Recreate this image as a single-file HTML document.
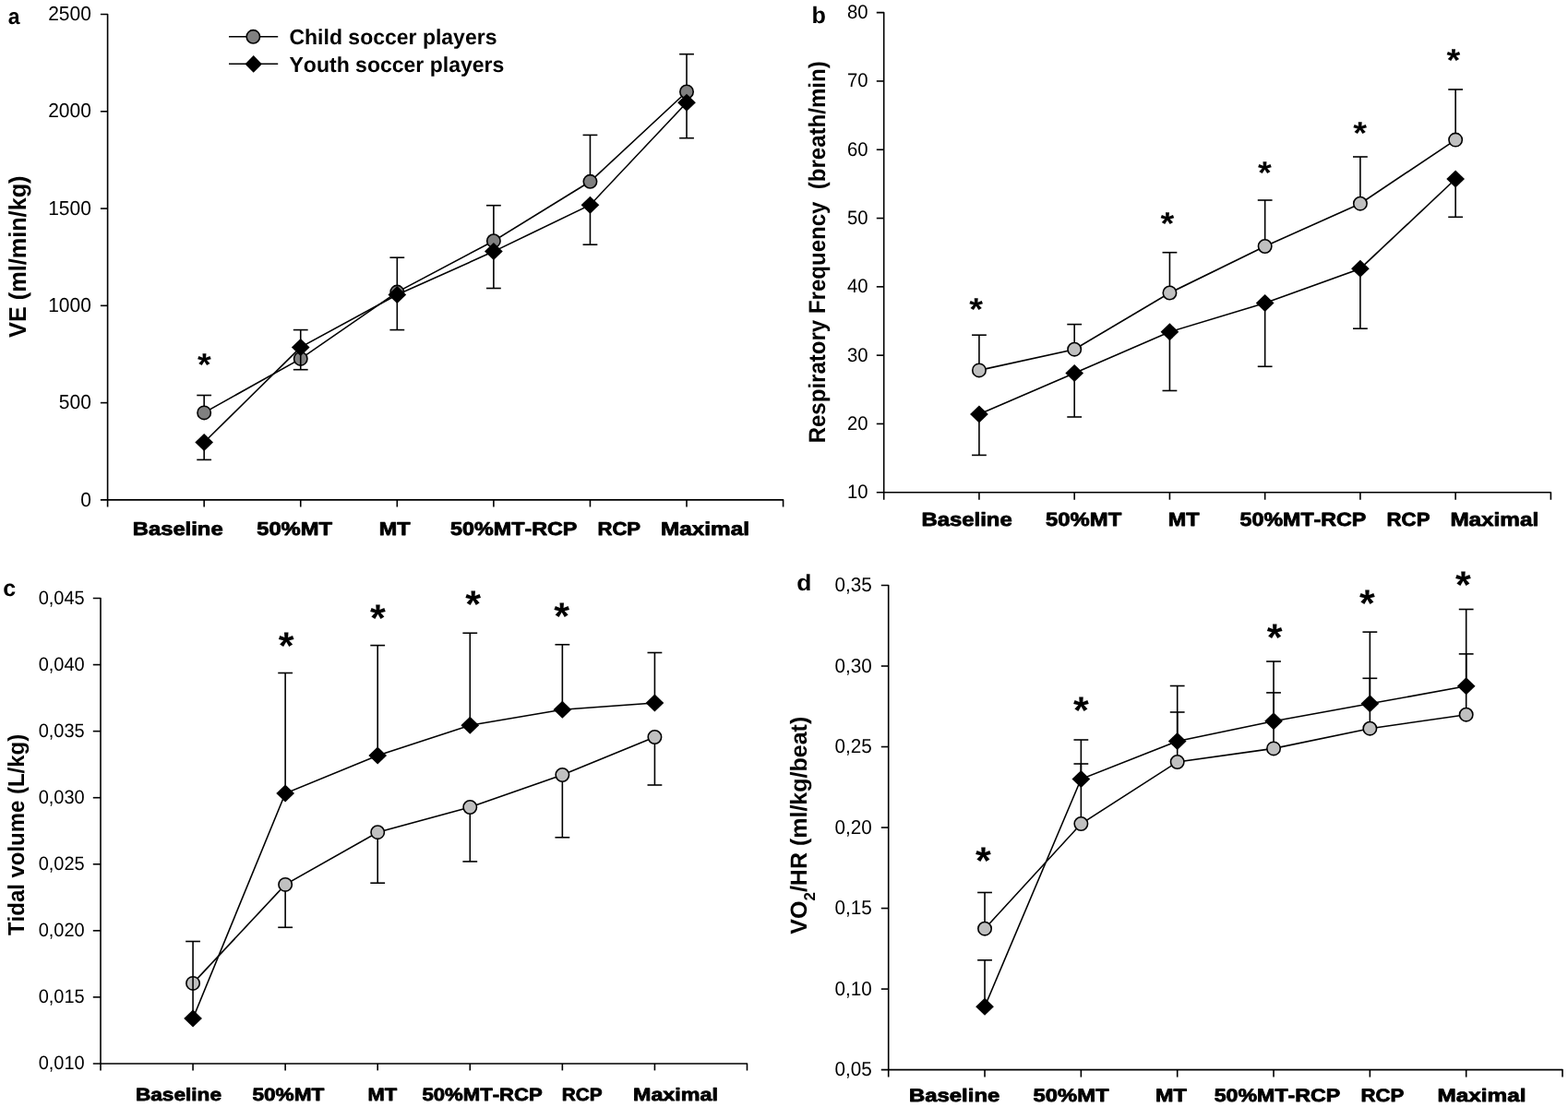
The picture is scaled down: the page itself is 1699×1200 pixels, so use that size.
<!DOCTYPE html>
<html><head><meta charset="utf-8"><title>Figure</title>
<style>
html,body{margin:0;padding:0;background:#fff;}
svg{display:block;}
text{font-family:'Liberation Sans', Arial, sans-serif;fill:#000;stroke:none;font-kerning:none;white-space:pre;text-rendering:geometricPrecision;}
</style></head>
<body>
<svg width="1699" height="1200" viewBox="0 0 1699 1200">
<rect width="1699" height="1200" fill="#fff"/>
<g stroke="#000" stroke-linecap="butt">
<g>
<path d="M108.9,15.5 L116.6,15.5 L116.6,549.5" fill="none" stroke-width="1.6" stroke-linejoin="round"/>
<path d="M108.9,541.9 L848.59,541.9 L848.59,549.5" fill="none" stroke-width="1.6" stroke-linejoin="round"/>
<line x1="108.9" y1="120.78" x2="116.6" y2="120.78" stroke-width="1.6"/>
<line x1="108.9" y1="226.06" x2="116.6" y2="226.06" stroke-width="1.6"/>
<line x1="108.9" y1="331.34" x2="116.6" y2="331.34" stroke-width="1.6"/>
<line x1="108.9" y1="436.62" x2="116.6" y2="436.62" stroke-width="1.6"/>
<line x1="221.17" y1="541.9" x2="221.17" y2="549.5" stroke-width="1.6"/>
<line x1="325.74" y1="541.9" x2="325.74" y2="549.5" stroke-width="1.6"/>
<line x1="430.31" y1="541.9" x2="430.31" y2="549.5" stroke-width="1.6"/>
<line x1="534.88" y1="541.9" x2="534.88" y2="549.5" stroke-width="1.6"/>
<line x1="639.45" y1="541.9" x2="639.45" y2="549.5" stroke-width="1.6"/>
<line x1="744.02" y1="541.9" x2="744.02" y2="549.5" stroke-width="1.6"/>
<text transform="translate(52.15,22.19) scale(1.0000,1.0350)" font-size="21" font-weight="normal">2500</text>
<text transform="translate(52.15,127.47) scale(1.0000,1.0350)" font-size="21" font-weight="normal">2000</text>
<text transform="translate(52.15,232.75) scale(1.0000,1.0350)" font-size="21" font-weight="normal">1500</text>
<text transform="translate(52.15,338.03) scale(1.0000,1.0350)" font-size="21" font-weight="normal">1000</text>
<text transform="translate(63.83,443.31) scale(1.0000,1.0350)" font-size="21" font-weight="normal">500</text>
<text transform="translate(87.19,548.59) scale(1.0000,1.0350)" font-size="21" font-weight="normal">0</text>
<text transform="translate(143.73,579.74) scale(1.1733,1.0000)" font-size="20.3" font-weight="bold" style="stroke:#000;stroke-width:0.8;stroke-linejoin:round">Baseline</text>
<text transform="translate(278.19,579.74) scale(1.1717,1.0000)" font-size="20.3" font-weight="bold" style="stroke:#000;stroke-width:0.8;stroke-linejoin:round">50%MT</text>
<text transform="translate(410.74,579.74) scale(1.1548,1.0000)" font-size="20.3" font-weight="bold" style="stroke:#000;stroke-width:0.8;stroke-linejoin:round">MT</text>
<text transform="translate(488.09,579.74) scale(1.1492,1.0000)" font-size="20.3" font-weight="bold" style="stroke:#000;stroke-width:0.8;stroke-linejoin:round">50%MT-RCP</text>
<text transform="translate(647.4,579.74) scale(1.0911,1.0000)" font-size="20.3" font-weight="bold" style="stroke:#000;stroke-width:0.8;stroke-linejoin:round">RCP</text>
<text transform="translate(716,579.74) scale(1.1982,1.0000)" font-size="20.3" font-weight="bold" style="stroke:#000;stroke-width:0.8;stroke-linejoin:round">Maximal</text>
<line x1="221.17" y1="447.4" x2="221.17" y2="428.5" stroke-width="1.6"/>
<line x1="213.27" y1="428.5" x2="229.07" y2="428.5" stroke-width="1.6"/>
<line x1="325.74" y1="388.9" x2="325.74" y2="357.6" stroke-width="1.6"/>
<line x1="317.84" y1="357.6" x2="333.64" y2="357.6" stroke-width="1.6"/>
<line x1="430.31" y1="316.6" x2="430.31" y2="279.2" stroke-width="1.6"/>
<line x1="422.41" y1="279.2" x2="438.21" y2="279.2" stroke-width="1.6"/>
<line x1="534.88" y1="261.2" x2="534.88" y2="222.7" stroke-width="1.6"/>
<line x1="526.98" y1="222.7" x2="542.78" y2="222.7" stroke-width="1.6"/>
<line x1="639.45" y1="196.8" x2="639.45" y2="146.4" stroke-width="1.6"/>
<line x1="631.55" y1="146.4" x2="647.35" y2="146.4" stroke-width="1.6"/>
<line x1="744.02" y1="99.5" x2="744.02" y2="58.7" stroke-width="1.6"/>
<line x1="736.12" y1="58.7" x2="751.92" y2="58.7" stroke-width="1.6"/>
<polyline points="221.17,447.4 325.74,388.9 430.31,316.6 534.88,261.2 639.45,196.8 744.02,99.5" fill="none" stroke-width="1.6"/>
<circle cx="221.17" cy="447.4" r="7.2" fill="#808080" stroke-width="1.6"/>
<circle cx="325.74" cy="388.9" r="7.2" fill="#808080" stroke-width="1.6"/>
<circle cx="430.31" cy="316.6" r="7.2" fill="#808080" stroke-width="1.6"/>
<circle cx="534.88" cy="261.2" r="7.2" fill="#808080" stroke-width="1.6"/>
<circle cx="639.45" cy="196.8" r="7.2" fill="#808080" stroke-width="1.6"/>
<circle cx="744.02" cy="99.5" r="7.2" fill="#808080" stroke-width="1.6"/>
<line x1="221.17" y1="479.5" x2="221.17" y2="498.4" stroke-width="1.6"/>
<line x1="213.27" y1="498.4" x2="229.07" y2="498.4" stroke-width="1.6"/>
<line x1="325.74" y1="376.4" x2="325.74" y2="400.7" stroke-width="1.6"/>
<line x1="317.84" y1="400.7" x2="333.64" y2="400.7" stroke-width="1.6"/>
<line x1="430.31" y1="319.5" x2="430.31" y2="357.6" stroke-width="1.6"/>
<line x1="422.41" y1="357.6" x2="438.21" y2="357.6" stroke-width="1.6"/>
<line x1="534.88" y1="272.6" x2="534.88" y2="312.5" stroke-width="1.6"/>
<line x1="526.98" y1="312.5" x2="542.78" y2="312.5" stroke-width="1.6"/>
<line x1="639.45" y1="222.2" x2="639.45" y2="265.2" stroke-width="1.6"/>
<line x1="631.55" y1="265.2" x2="647.35" y2="265.2" stroke-width="1.6"/>
<line x1="744.02" y1="111.2" x2="744.02" y2="149.7" stroke-width="1.6"/>
<line x1="736.12" y1="149.7" x2="751.92" y2="149.7" stroke-width="1.6"/>
<polyline points="221.17,479.5 325.74,376.4 430.31,319.5 534.88,272.6 639.45,222.2 744.02,111.2" fill="none" stroke-width="1.6"/>
<polygon points="221.17,470 231.02,479.5 221.17,489 211.32,479.5" fill="#000" stroke="none"/>
<polygon points="325.74,366.9 335.59,376.4 325.74,385.9 315.89,376.4" fill="#000" stroke="none"/>
<polygon points="430.31,310 440.16,319.5 430.31,329 420.46,319.5" fill="#000" stroke="none"/>
<polygon points="534.88,263.1 544.73,272.6 534.88,282.1 525.03,272.6" fill="#000" stroke="none"/>
<polygon points="639.45,212.7 649.3,222.2 639.45,231.7 629.6,222.2" fill="#000" stroke="none"/>
<polygon points="744.02,101.7 753.87,111.2 744.02,120.7 734.17,111.2" fill="#000" stroke="none"/>
<text transform="translate(213.88,406.81) scale(1.040,0.950)" font-size="36.5" font-weight="bold">*</text>
</g>
<g>
<path d="M949.8,13.65 L957.7,13.65 L957.7,541.7" fill="none" stroke-width="1.6" stroke-linejoin="round"/>
<path d="M949.8,533.8 L1680.38,533.8 L1680.38,541.7" fill="none" stroke-width="1.6" stroke-linejoin="round"/>
<line x1="949.8" y1="87.95" x2="957.7" y2="87.95" stroke-width="1.6"/>
<line x1="949.8" y1="162.25" x2="957.7" y2="162.25" stroke-width="1.6"/>
<line x1="949.8" y1="236.55" x2="957.7" y2="236.55" stroke-width="1.6"/>
<line x1="949.8" y1="310.85" x2="957.7" y2="310.85" stroke-width="1.6"/>
<line x1="949.8" y1="385.15" x2="957.7" y2="385.15" stroke-width="1.6"/>
<line x1="949.8" y1="459.45" x2="957.7" y2="459.45" stroke-width="1.6"/>
<line x1="1060.94" y1="533.8" x2="1060.94" y2="541.7" stroke-width="1.6"/>
<line x1="1164.18" y1="533.8" x2="1164.18" y2="541.7" stroke-width="1.6"/>
<line x1="1267.42" y1="533.8" x2="1267.42" y2="541.7" stroke-width="1.6"/>
<line x1="1370.66" y1="533.8" x2="1370.66" y2="541.7" stroke-width="1.6"/>
<line x1="1473.9" y1="533.8" x2="1473.9" y2="541.7" stroke-width="1.6"/>
<line x1="1577.14" y1="533.8" x2="1577.14" y2="541.7" stroke-width="1.6"/>
<text transform="translate(917.91,20.08) scale(1.0000,1.0350)" font-size="20.3" font-weight="normal">80</text>
<text transform="translate(917.91,94.38) scale(1.0000,1.0350)" font-size="20.3" font-weight="normal">70</text>
<text transform="translate(917.91,168.68) scale(1.0000,1.0350)" font-size="20.3" font-weight="normal">60</text>
<text transform="translate(917.91,242.98) scale(1.0000,1.0350)" font-size="20.3" font-weight="normal">50</text>
<text transform="translate(917.91,317.28) scale(1.0000,1.0350)" font-size="20.3" font-weight="normal">40</text>
<text transform="translate(917.91,391.58) scale(1.0000,1.0350)" font-size="20.3" font-weight="normal">30</text>
<text transform="translate(917.91,465.88) scale(1.0000,1.0350)" font-size="20.3" font-weight="normal">20</text>
<text transform="translate(917.91,540.18) scale(1.0000,1.0350)" font-size="20.3" font-weight="normal">10</text>
<text transform="translate(998.42,570.3) scale(1.1600,1.0000)" font-size="20.6" font-weight="bold" style="stroke:#000;stroke-width:0.8;stroke-linejoin:round">Baseline</text>
<text transform="translate(1133.08,570.3) scale(1.1577,1.0000)" font-size="20.6" font-weight="bold" style="stroke:#000;stroke-width:0.8;stroke-linejoin:round">50%MT</text>
<text transform="translate(1265.84,570.3) scale(1.1367,1.0000)" font-size="20.6" font-weight="bold" style="stroke:#000;stroke-width:0.8;stroke-linejoin:round">MT</text>
<text transform="translate(1343.59,570.3) scale(1.1276,1.0000)" font-size="20.6" font-weight="bold" style="stroke:#000;stroke-width:0.8;stroke-linejoin:round">50%MT-RCP</text>
<text transform="translate(1502.6,570.3) scale(1.0767,1.0000)" font-size="20.6" font-weight="bold" style="stroke:#000;stroke-width:0.8;stroke-linejoin:round">RCP</text>
<text transform="translate(1571.4,570.3) scale(1.1784,1.0000)" font-size="20.6" font-weight="bold" style="stroke:#000;stroke-width:0.8;stroke-linejoin:round">Maximal</text>
<line x1="1060.94" y1="401.4" x2="1060.94" y2="363.2" stroke-width="1.6"/>
<line x1="1053.04" y1="363.2" x2="1068.84" y2="363.2" stroke-width="1.6"/>
<line x1="1164.18" y1="378.7" x2="1164.18" y2="351.6" stroke-width="1.6"/>
<line x1="1156.28" y1="351.6" x2="1172.08" y2="351.6" stroke-width="1.6"/>
<line x1="1267.42" y1="317.5" x2="1267.42" y2="273.7" stroke-width="1.6"/>
<line x1="1259.52" y1="273.7" x2="1275.32" y2="273.7" stroke-width="1.6"/>
<line x1="1370.66" y1="267" x2="1370.66" y2="217" stroke-width="1.6"/>
<line x1="1362.76" y1="217" x2="1378.56" y2="217" stroke-width="1.6"/>
<line x1="1473.9" y1="220.7" x2="1473.9" y2="170" stroke-width="1.6"/>
<line x1="1466" y1="170" x2="1481.8" y2="170" stroke-width="1.6"/>
<line x1="1577.14" y1="151.6" x2="1577.14" y2="97" stroke-width="1.6"/>
<line x1="1569.24" y1="97" x2="1585.04" y2="97" stroke-width="1.6"/>
<polyline points="1060.94,401.4 1164.18,378.7 1267.42,317.5 1370.66,267 1473.9,220.7 1577.14,151.6" fill="none" stroke-width="1.6"/>
<circle cx="1060.94" cy="401.4" r="7.2" fill="#c0c0c0" stroke-width="1.6"/>
<circle cx="1164.18" cy="378.7" r="7.2" fill="#c0c0c0" stroke-width="1.6"/>
<circle cx="1267.42" cy="317.5" r="7.2" fill="#c0c0c0" stroke-width="1.6"/>
<circle cx="1370.66" cy="267" r="7.2" fill="#c0c0c0" stroke-width="1.6"/>
<circle cx="1473.9" cy="220.7" r="7.2" fill="#c0c0c0" stroke-width="1.6"/>
<circle cx="1577.14" cy="151.6" r="7.2" fill="#c0c0c0" stroke-width="1.6"/>
<line x1="1060.94" y1="449" x2="1060.94" y2="493.4" stroke-width="1.6"/>
<line x1="1053.04" y1="493.4" x2="1068.84" y2="493.4" stroke-width="1.6"/>
<line x1="1164.18" y1="404.5" x2="1164.18" y2="452" stroke-width="1.6"/>
<line x1="1156.28" y1="452" x2="1172.08" y2="452" stroke-width="1.6"/>
<line x1="1267.42" y1="359.8" x2="1267.42" y2="423.5" stroke-width="1.6"/>
<line x1="1259.52" y1="423.5" x2="1275.32" y2="423.5" stroke-width="1.6"/>
<line x1="1370.66" y1="328.5" x2="1370.66" y2="397.3" stroke-width="1.6"/>
<line x1="1362.76" y1="397.3" x2="1378.56" y2="397.3" stroke-width="1.6"/>
<line x1="1473.9" y1="291.2" x2="1473.9" y2="356.2" stroke-width="1.6"/>
<line x1="1466" y1="356.2" x2="1481.8" y2="356.2" stroke-width="1.6"/>
<line x1="1577.14" y1="194" x2="1577.14" y2="235.3" stroke-width="1.6"/>
<line x1="1569.24" y1="235.3" x2="1585.04" y2="235.3" stroke-width="1.6"/>
<polyline points="1060.94,449 1164.18,404.5 1267.42,359.8 1370.66,328.5 1473.9,291.2 1577.14,194" fill="none" stroke-width="1.6"/>
<polygon points="1060.94,439.5 1070.79,449 1060.94,458.5 1051.09,449" fill="#000" stroke="none"/>
<polygon points="1164.18,395 1174.03,404.5 1164.18,414 1154.33,404.5" fill="#000" stroke="none"/>
<polygon points="1267.42,350.3 1277.27,359.8 1267.42,369.3 1257.57,359.8" fill="#000" stroke="none"/>
<polygon points="1370.66,319 1380.51,328.5 1370.66,338 1360.81,328.5" fill="#000" stroke="none"/>
<polygon points="1473.9,281.7 1483.75,291.2 1473.9,300.7 1464.05,291.2" fill="#000" stroke="none"/>
<polygon points="1577.14,184.5 1586.99,194 1577.14,203.5 1567.29,194" fill="#000" stroke="none"/>
<text transform="translate(1050.28,346.81) scale(1.040,0.950)" font-size="36.5" font-weight="bold">*</text>
<text transform="translate(1257.48,254.31) scale(1.040,0.950)" font-size="36.5" font-weight="bold">*</text>
<text transform="translate(1362.98,198.81) scale(1.040,0.950)" font-size="36.5" font-weight="bold">*</text>
<text transform="translate(1466.33,155.61) scale(1.040,0.950)" font-size="36.5" font-weight="bold">*</text>
<text transform="translate(1567.58,76.66) scale(1.040,0.950)" font-size="36.5" font-weight="bold">*</text>
</g>
<g>
<path d="M100.8,648.5 L109,648.5 L109,1160.4" fill="none" stroke-width="1.6" stroke-linejoin="round"/>
<path d="M100.8,1153 L809.49,1153 L809.49,1160.4" fill="none" stroke-width="1.6" stroke-linejoin="round"/>
<line x1="100.8" y1="720.57" x2="109" y2="720.57" stroke-width="1.6"/>
<line x1="100.8" y1="792.64" x2="109" y2="792.64" stroke-width="1.6"/>
<line x1="100.8" y1="864.71" x2="109" y2="864.71" stroke-width="1.6"/>
<line x1="100.8" y1="936.78" x2="109" y2="936.78" stroke-width="1.6"/>
<line x1="100.8" y1="1008.85" x2="109" y2="1008.85" stroke-width="1.6"/>
<line x1="100.8" y1="1080.92" x2="109" y2="1080.92" stroke-width="1.6"/>
<line x1="209.07" y1="1153" x2="209.07" y2="1160.4" stroke-width="1.6"/>
<line x1="309.14" y1="1153" x2="309.14" y2="1160.4" stroke-width="1.6"/>
<line x1="409.21" y1="1153" x2="409.21" y2="1160.4" stroke-width="1.6"/>
<line x1="509.28" y1="1153" x2="509.28" y2="1160.4" stroke-width="1.6"/>
<line x1="609.35" y1="1153" x2="609.35" y2="1160.4" stroke-width="1.6"/>
<line x1="709.42" y1="1153" x2="709.42" y2="1160.4" stroke-width="1.6"/>
<text transform="translate(41.69,654.82) scale(1.0000,1.0350)" font-size="20" font-weight="normal">0,045</text>
<text transform="translate(41.63,726.89) scale(1.0000,1.0350)" font-size="20" font-weight="normal">0,040</text>
<text transform="translate(41.69,798.96) scale(1.0000,1.0350)" font-size="20" font-weight="normal">0,035</text>
<text transform="translate(41.63,871.03) scale(1.0000,1.0350)" font-size="20" font-weight="normal">0,030</text>
<text transform="translate(41.69,943.1) scale(1.0000,1.0350)" font-size="20" font-weight="normal">0,025</text>
<text transform="translate(41.63,1015.17) scale(1.0000,1.0350)" font-size="20" font-weight="normal">0,020</text>
<text transform="translate(41.69,1087.24) scale(1.0000,1.0350)" font-size="20" font-weight="normal">0,015</text>
<text transform="translate(41.63,1159.31) scale(1.0000,1.0350)" font-size="20" font-weight="normal">0,010</text>
<text transform="translate(146.9,1192.8) scale(1.1734,1.0000)" font-size="19.3" font-weight="bold" style="stroke:#000;stroke-width:0.8;stroke-linejoin:round">Baseline</text>
<text transform="translate(273.42,1192.8) scale(1.1730,1.0000)" font-size="19.3" font-weight="bold" style="stroke:#000;stroke-width:0.8;stroke-linejoin:round">50%MT</text>
<text transform="translate(398.44,1192.8) scale(1.1374,1.0000)" font-size="19.3" font-weight="bold" style="stroke:#000;stroke-width:0.8;stroke-linejoin:round">MT</text>
<text transform="translate(457.43,1192.8) scale(1.1474,1.0000)" font-size="19.3" font-weight="bold" style="stroke:#000;stroke-width:0.8;stroke-linejoin:round">50%MT-RCP</text>
<text transform="translate(608.79,1192.8) scale(1.0783,1.0000)" font-size="19.3" font-weight="bold" style="stroke:#000;stroke-width:0.8;stroke-linejoin:round">RCP</text>
<text transform="translate(686.02,1192.8) scale(1.2078,1.0000)" font-size="19.3" font-weight="bold" style="stroke:#000;stroke-width:0.8;stroke-linejoin:round">Maximal</text>
<line x1="309.14" y1="958.9" x2="309.14" y2="1005.3" stroke-width="1.6"/>
<line x1="301.24" y1="1005.3" x2="317.04" y2="1005.3" stroke-width="1.6"/>
<line x1="409.21" y1="902.2" x2="409.21" y2="957.2" stroke-width="1.6"/>
<line x1="401.31" y1="957.2" x2="417.11" y2="957.2" stroke-width="1.6"/>
<line x1="509.28" y1="875" x2="509.28" y2="933.9" stroke-width="1.6"/>
<line x1="501.38" y1="933.9" x2="517.18" y2="933.9" stroke-width="1.6"/>
<line x1="609.35" y1="840" x2="609.35" y2="907.8" stroke-width="1.6"/>
<line x1="601.45" y1="907.8" x2="617.25" y2="907.8" stroke-width="1.6"/>
<line x1="709.42" y1="799" x2="709.42" y2="851" stroke-width="1.6"/>
<line x1="701.52" y1="851" x2="717.32" y2="851" stroke-width="1.6"/>
<polyline points="209.07,1065.9 309.14,958.9 409.21,902.2 509.28,875 609.35,840 709.42,799" fill="none" stroke-width="1.6"/>
<circle cx="209.07" cy="1065.9" r="7.2" fill="#c0c0c0" stroke-width="1.6"/>
<circle cx="309.14" cy="958.9" r="7.2" fill="#c0c0c0" stroke-width="1.6"/>
<circle cx="409.21" cy="902.2" r="7.2" fill="#c0c0c0" stroke-width="1.6"/>
<circle cx="509.28" cy="875" r="7.2" fill="#c0c0c0" stroke-width="1.6"/>
<circle cx="609.35" cy="840" r="7.2" fill="#c0c0c0" stroke-width="1.6"/>
<circle cx="709.42" cy="799" r="7.2" fill="#c0c0c0" stroke-width="1.6"/>
<line x1="209.07" y1="1104" x2="209.07" y2="1020.5" stroke-width="1.6"/>
<line x1="201.17" y1="1020.5" x2="216.97" y2="1020.5" stroke-width="1.6"/>
<line x1="309.14" y1="860" x2="309.14" y2="729.5" stroke-width="1.6"/>
<line x1="301.24" y1="729.5" x2="317.04" y2="729.5" stroke-width="1.6"/>
<line x1="409.21" y1="819" x2="409.21" y2="699.6" stroke-width="1.6"/>
<line x1="401.31" y1="699.6" x2="417.11" y2="699.6" stroke-width="1.6"/>
<line x1="509.28" y1="786.25" x2="509.28" y2="686.25" stroke-width="1.6"/>
<line x1="501.38" y1="686.25" x2="517.18" y2="686.25" stroke-width="1.6"/>
<line x1="609.35" y1="769.25" x2="609.35" y2="698.75" stroke-width="1.6"/>
<line x1="601.45" y1="698.75" x2="617.25" y2="698.75" stroke-width="1.6"/>
<line x1="709.42" y1="762" x2="709.42" y2="707.5" stroke-width="1.6"/>
<line x1="701.52" y1="707.5" x2="717.32" y2="707.5" stroke-width="1.6"/>
<polyline points="209.07,1104 309.14,860 409.21,819 509.28,786.25 609.35,769.25 709.42,762" fill="none" stroke-width="1.6"/>
<polygon points="209.07,1094.5 218.92,1104 209.07,1113.5 199.22,1104" fill="#000" stroke="none"/>
<polygon points="309.14,850.5 318.99,860 309.14,869.5 299.29,860" fill="#000" stroke="none"/>
<polygon points="409.21,809.5 419.06,819 409.21,828.5 399.36,819" fill="#000" stroke="none"/>
<polygon points="509.28,776.75 519.13,786.25 509.28,795.75 499.43,786.25" fill="#000" stroke="none"/>
<polygon points="609.35,759.75 619.2,769.25 609.35,778.75 599.5,769.25" fill="#000" stroke="none"/>
<polygon points="709.42,752.5 719.27,762 709.42,771.5 699.57,762" fill="#000" stroke="none"/>
<text transform="translate(301.86,713.73) scale(1.040,1.000)" font-size="41.5" font-weight="bold">*</text>
<text transform="translate(400.96,684.33) scale(1.040,1.000)" font-size="41.5" font-weight="bold">*</text>
<text transform="translate(504.16,669.33) scale(1.040,1.000)" font-size="41.5" font-weight="bold">*</text>
<text transform="translate(600.16,682.13) scale(1.040,1.000)" font-size="41.5" font-weight="bold">*</text>
</g>
<g>
<path d="M954.8,634.5 L962.7,634.5 L962.7,1167.6" fill="none" stroke-width="1.6" stroke-linejoin="round"/>
<path d="M954.8,1159.6 L1693.01,1159.6 L1693.01,1167.6" fill="none" stroke-width="1.6" stroke-linejoin="round"/>
<line x1="954.8" y1="722.02" x2="962.7" y2="722.02" stroke-width="1.6"/>
<line x1="954.8" y1="809.54" x2="962.7" y2="809.54" stroke-width="1.6"/>
<line x1="954.8" y1="897.06" x2="962.7" y2="897.06" stroke-width="1.6"/>
<line x1="954.8" y1="984.58" x2="962.7" y2="984.58" stroke-width="1.6"/>
<line x1="954.8" y1="1072.1" x2="962.7" y2="1072.1" stroke-width="1.6"/>
<line x1="1067.03" y1="1159.6" x2="1067.03" y2="1167.6" stroke-width="1.6"/>
<line x1="1171.36" y1="1159.6" x2="1171.36" y2="1167.6" stroke-width="1.6"/>
<line x1="1275.69" y1="1159.6" x2="1275.69" y2="1167.6" stroke-width="1.6"/>
<line x1="1380.02" y1="1159.6" x2="1380.02" y2="1167.6" stroke-width="1.6"/>
<line x1="1484.35" y1="1159.6" x2="1484.35" y2="1167.6" stroke-width="1.6"/>
<line x1="1588.68" y1="1159.6" x2="1588.68" y2="1167.6" stroke-width="1.6"/>
<text transform="translate(904.48,641.08) scale(1.0000,1.0350)" font-size="20.7" font-weight="normal">0,35</text>
<text transform="translate(904.42,728.6) scale(1.0000,1.0350)" font-size="20.7" font-weight="normal">0,30</text>
<text transform="translate(904.48,816.12) scale(1.0000,1.0350)" font-size="20.7" font-weight="normal">0,25</text>
<text transform="translate(904.42,903.64) scale(1.0000,1.0350)" font-size="20.7" font-weight="normal">0,20</text>
<text transform="translate(904.48,991.16) scale(1.0000,1.0350)" font-size="20.7" font-weight="normal">0,15</text>
<text transform="translate(904.42,1078.68) scale(1.0000,1.0350)" font-size="20.7" font-weight="normal">0,10</text>
<text transform="translate(904.48,1166.2) scale(1.0000,1.0350)" font-size="20.7" font-weight="normal">0,05</text>
<text transform="translate(985.04,1194.23) scale(1.2185,1.0000)" font-size="19.6" font-weight="bold" style="stroke:#000;stroke-width:0.8;stroke-linejoin:round">Baseline</text>
<text transform="translate(1119.6,1194.23) scale(1.2131,1.0000)" font-size="19.6" font-weight="bold" style="stroke:#000;stroke-width:0.8;stroke-linejoin:round">50%MT</text>
<text transform="translate(1251.96,1194.23) scale(1.1930,1.0000)" font-size="19.6" font-weight="bold" style="stroke:#000;stroke-width:0.8;stroke-linejoin:round">MT</text>
<text transform="translate(1315.71,1194.23) scale(1.1830,1.0000)" font-size="19.6" font-weight="bold" style="stroke:#000;stroke-width:0.8;stroke-linejoin:round">50%MT-RCP</text>
<text transform="translate(1474.52,1194.23) scale(1.1318,1.0000)" font-size="19.6" font-weight="bold" style="stroke:#000;stroke-width:0.8;stroke-linejoin:round">RCP</text>
<text transform="translate(1557.62,1194.23) scale(1.2393,1.0000)" font-size="19.6" font-weight="bold" style="stroke:#000;stroke-width:0.8;stroke-linejoin:round">Maximal</text>
<line x1="1067.03" y1="1006.7" x2="1067.03" y2="967.5" stroke-width="1.6"/>
<line x1="1059.13" y1="967.5" x2="1074.93" y2="967.5" stroke-width="1.6"/>
<line x1="1171.36" y1="893" x2="1171.36" y2="828" stroke-width="1.6"/>
<line x1="1163.46" y1="828" x2="1179.26" y2="828" stroke-width="1.6"/>
<line x1="1275.69" y1="826" x2="1275.69" y2="772" stroke-width="1.6"/>
<line x1="1267.79" y1="772" x2="1283.59" y2="772" stroke-width="1.6"/>
<line x1="1380.02" y1="811.4" x2="1380.02" y2="750.9" stroke-width="1.6"/>
<line x1="1372.12" y1="750.9" x2="1387.92" y2="750.9" stroke-width="1.6"/>
<line x1="1484.35" y1="789.7" x2="1484.35" y2="735.3" stroke-width="1.6"/>
<line x1="1476.45" y1="735.3" x2="1492.25" y2="735.3" stroke-width="1.6"/>
<line x1="1588.68" y1="774.7" x2="1588.68" y2="708.9" stroke-width="1.6"/>
<line x1="1580.78" y1="708.9" x2="1596.58" y2="708.9" stroke-width="1.6"/>
<polyline points="1067.03,1006.7 1171.36,893 1275.69,826 1380.02,811.4 1484.35,789.7 1588.68,774.7" fill="none" stroke-width="1.6"/>
<circle cx="1067.03" cy="1006.7" r="7.2" fill="#c0c0c0" stroke-width="1.6"/>
<circle cx="1171.36" cy="893" r="7.2" fill="#c0c0c0" stroke-width="1.6"/>
<circle cx="1275.69" cy="826" r="7.2" fill="#c0c0c0" stroke-width="1.6"/>
<circle cx="1380.02" cy="811.4" r="7.2" fill="#c0c0c0" stroke-width="1.6"/>
<circle cx="1484.35" cy="789.7" r="7.2" fill="#c0c0c0" stroke-width="1.6"/>
<circle cx="1588.68" cy="774.7" r="7.2" fill="#c0c0c0" stroke-width="1.6"/>
<line x1="1067.03" y1="1091.2" x2="1067.03" y2="1040.8" stroke-width="1.6"/>
<line x1="1059.13" y1="1040.8" x2="1074.93" y2="1040.8" stroke-width="1.6"/>
<line x1="1171.36" y1="844.5" x2="1171.36" y2="802" stroke-width="1.6"/>
<line x1="1163.46" y1="802" x2="1179.26" y2="802" stroke-width="1.6"/>
<line x1="1275.69" y1="803.5" x2="1275.69" y2="743.5" stroke-width="1.6"/>
<line x1="1267.79" y1="743.5" x2="1283.59" y2="743.5" stroke-width="1.6"/>
<line x1="1380.02" y1="781.8" x2="1380.02" y2="717" stroke-width="1.6"/>
<line x1="1372.12" y1="717" x2="1387.92" y2="717" stroke-width="1.6"/>
<line x1="1484.35" y1="762.8" x2="1484.35" y2="685.1" stroke-width="1.6"/>
<line x1="1476.45" y1="685.1" x2="1492.25" y2="685.1" stroke-width="1.6"/>
<line x1="1588.68" y1="743.8" x2="1588.68" y2="660.5" stroke-width="1.6"/>
<line x1="1580.78" y1="660.5" x2="1596.58" y2="660.5" stroke-width="1.6"/>
<polyline points="1067.03,1091.2 1171.36,844.5 1275.69,803.5 1380.02,781.8 1484.35,762.8 1588.68,743.8" fill="none" stroke-width="1.6"/>
<polygon points="1067.03,1081.7 1076.88,1091.2 1067.03,1100.7 1057.18,1091.2" fill="#000" stroke="none"/>
<polygon points="1171.36,835 1181.21,844.5 1171.36,854 1161.51,844.5" fill="#000" stroke="none"/>
<polygon points="1275.69,794 1285.54,803.5 1275.69,813 1265.84,803.5" fill="#000" stroke="none"/>
<polygon points="1380.02,772.3 1389.87,781.8 1380.02,791.3 1370.17,781.8" fill="#000" stroke="none"/>
<polygon points="1484.35,753.3 1494.2,762.8 1484.35,772.3 1474.5,762.8" fill="#000" stroke="none"/>
<polygon points="1588.68,734.3 1598.53,743.8 1588.68,753.3 1578.83,743.8" fill="#000" stroke="none"/>
<text transform="translate(1056.96,947.43) scale(1.040,1.000)" font-size="41.5" font-weight="bold">*</text>
<text transform="translate(1162.96,783.63) scale(1.040,1.000)" font-size="41.5" font-weight="bold">*</text>
<text transform="translate(1372.81,705.23) scale(1.040,1.000)" font-size="41.5" font-weight="bold">*</text>
<text transform="translate(1472.96,668.23) scale(1.040,1.000)" font-size="41.5" font-weight="bold">*</text>
<text transform="translate(1576.96,648.23) scale(1.040,1.000)" font-size="41.5" font-weight="bold">*</text>
</g>
<line x1="248" y1="39.8" x2="301.2" y2="39.8" stroke-width="1.6"/>
<circle cx="274.35" cy="39.8" r="7.2" fill="#808080" stroke-width="1.6"/>
<line x1="248" y1="69.2" x2="301.2" y2="69.2" stroke-width="1.6"/>
<polygon points="274.7,60 283.9,69.4 274.7,78.8 265.5,69.4" fill="#000" stroke="none"/>
<text transform="translate(313.46,47.5) scale(1.0222,1.0300)" font-size="22.5" font-weight="bold">Child soccer players</text>
<text transform="translate(313.51,77.6) scale(1.0230,1.0300)" font-size="22.5" font-weight="bold">Youth soccer players</text>
<text transform="translate(8.68,25.6) scale(0.9573,1.0000)" font-size="24" font-weight="bold">a</text>
<text transform="translate(879.44,25.3) scale(0.9962,1.0000)" font-size="25.3" font-weight="bold">b</text>
<text transform="translate(3.22,645.6)" font-size="25" font-weight="bold">c</text>
<text transform="translate(863.22,639.6) scale(1.0773,1.0000)" font-size="24.5" font-weight="bold">d</text>
<text transform="translate(28.3,365.97) rotate(-90) scale(0.9989,1.0300)" font-size="25.3" font-weight="bold">VE (ml/min/kg)</text>
<text transform="translate(894.4,480.36) rotate(-90) scale(0.9811,1.0300)" font-size="24.5" font-weight="bold">Respiratory Frequency  (breath/min)</text>
<text transform="translate(26.25,1014.02) rotate(-90) scale(0.9978,1.0300)" font-size="24" font-weight="bold">Tidal volume (L/kg)</text>
<text transform="translate(873.6,1012.67) rotate(-90)" font-size="25" font-weight="bold">VO<tspan font-size="17" dy="9">2</tspan><tspan dy="-9">/HR (ml/kg/beat)</tspan></text>
</g>
</svg>
</body></html>
